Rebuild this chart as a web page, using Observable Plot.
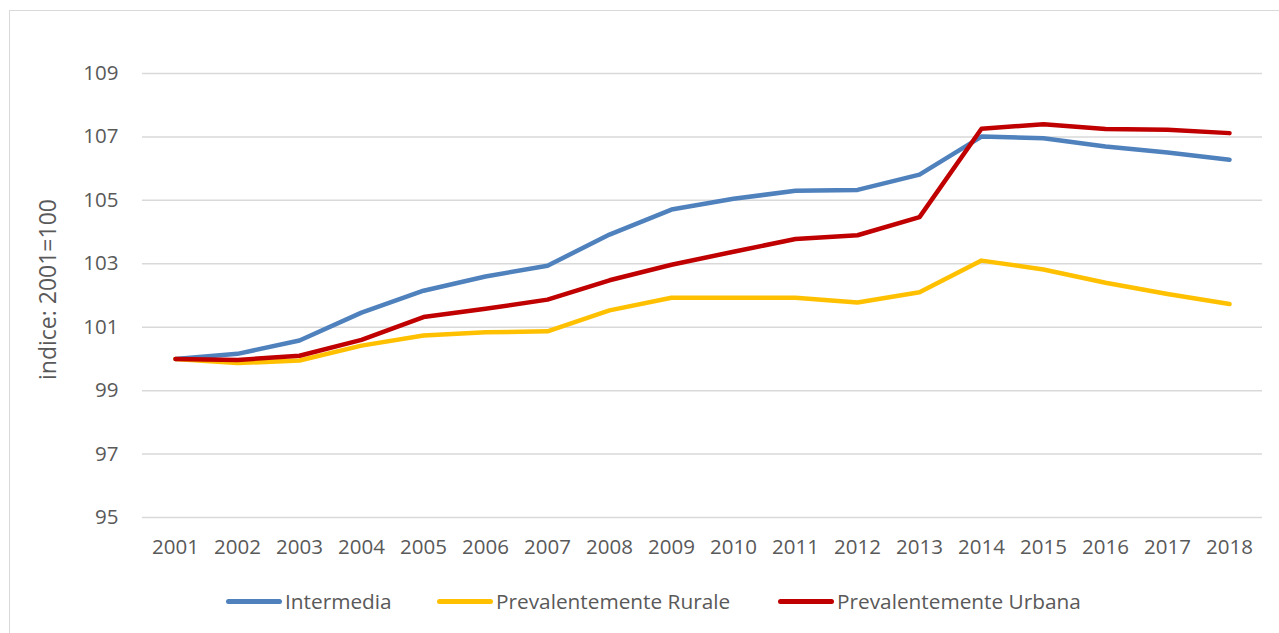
<!DOCTYPE html>
<html>
<head>
<meta charset="utf-8">
<script src="https://cdn.jsdelivr.net/npm/d3@7"></script>
<script src="https://cdn.jsdelivr.net/npm/@observablehq/plot@0.6"></script>
<style>
  html, body { margin: 0; padding: 0; background: #fff; }
  #wrap { position: relative; width: 1279px; height: 633px; overflow: hidden; font-family: "Open Sans", Lato, sans-serif; }
  #border { position: absolute; left: 9px; top: 10px; width: 1290px; height: 640px; border: 1px solid #d9d9d9; box-sizing: border-box; }
  #chart { position: absolute; left: 0; top: 0; }
  #legend { position: absolute; left: 0; top: 586px; width: 1279px; height: 30px; font-size: 20.8px; color: #595959; }
  .item { position: absolute; top: 0; display: flex; align-items: center; height: 30px; white-space: nowrap; }
  .sw { width: 56px; height: 5px; border-radius: 3px; margin-right: 3px; }
</style>
</head>
<body>
<div id="wrap">
  <div id="border"></div>
  <div id="chart"></div>
  <div id="legend"></div>
</div>
<script>
const years = [2001,2002,2003,2004,2005,2006,2007,2008,2009,2010,2011,2012,2013,2014,2015,2016,2017,2018];
const intermedia = [100.0,100.16,100.58,101.46,102.15,102.6,102.94,103.92,104.71,105.05,105.3,105.33,105.81,107.01,106.96,106.7,106.51,106.28];
const rurale     = [100.0,99.87,99.95,100.42,100.74,100.84,100.87,101.53,101.93,101.93,101.93,101.78,102.1,103.1,102.82,102.4,102.05,101.73];
const urbana     = [100.0,99.97,100.1,100.6,101.32,101.58,101.87,102.48,102.97,103.38,103.78,103.9,104.47,107.26,107.4,107.25,107.23,107.12];
const seriesNames = ["Intermedia","Prevalentemente Rurale","Prevalentemente Urbana"];
const seriesColors = ["#4f81bd","#ffc000","#c00000"];
const yTicks = [95,97,99,101,103,105,107,109];
const yTitle = "indice: 2001=100";

const data = [];
[intermedia, rurale, urbana].forEach((vals, i) => {
  vals.forEach((v, j) => data.push({year: String(years[j]), value: v, series: seriesNames[i]}));
});

const chart = Plot.plot({
  width: 1279,
  height: 570,
  marginLeft: 142,
  marginRight: 17,
  marginTop: 73,
  marginBottom: 53,
  style: {fontFamily: '"Open Sans", Lato, sans-serif', fontSize: "20.5px", color: "#595959", background: "transparent"},
  x: {type: "point", domain: years.map(String), padding: 0.5},
  y: {domain: [95, 109]},
  color: {domain: seriesNames, range: seriesColors},
  marks: [
    Plot.gridY(yTicks, {stroke: "#d9d9d9", strokeOpacity: 1, strokeWidth: 1.5}),
    Plot.axisY(yTicks, {tickSize: 0, tickPadding: 24, label: null, fill: "#595959", fontSize: 20.5}),
    Plot.axisX({tickSize: 0, tickPadding: 22, label: null, fill: "#595959", fontSize: 20.5}),
    Plot.text([yTitle], {frameAnchor: "left", textAnchor: "middle", lineAnchor: "middle", rotate: -90, dx: -94, dy: -6, fontSize: 23, fill: "#595959"}),
    Plot.line(data, {x: "year", y: "value", z: "series", stroke: "series", strokeWidth: 4.5, strokeLinecap: "round", strokeLinejoin: "round"})
  ]
});
document.getElementById("chart").appendChild(chart);

const legend = document.getElementById("legend");
const lefts = [226, 437, 778];
seriesNames.forEach((n, i) => {
  const it = document.createElement("div");
  it.className = "item";
  it.style.left = lefts[i] + "px";
  it.innerHTML = `<span class="sw" style="background:${seriesColors[i]}"></span><span>${n}</span>`;
  legend.appendChild(it);
});
</script>
</body>
</html>
